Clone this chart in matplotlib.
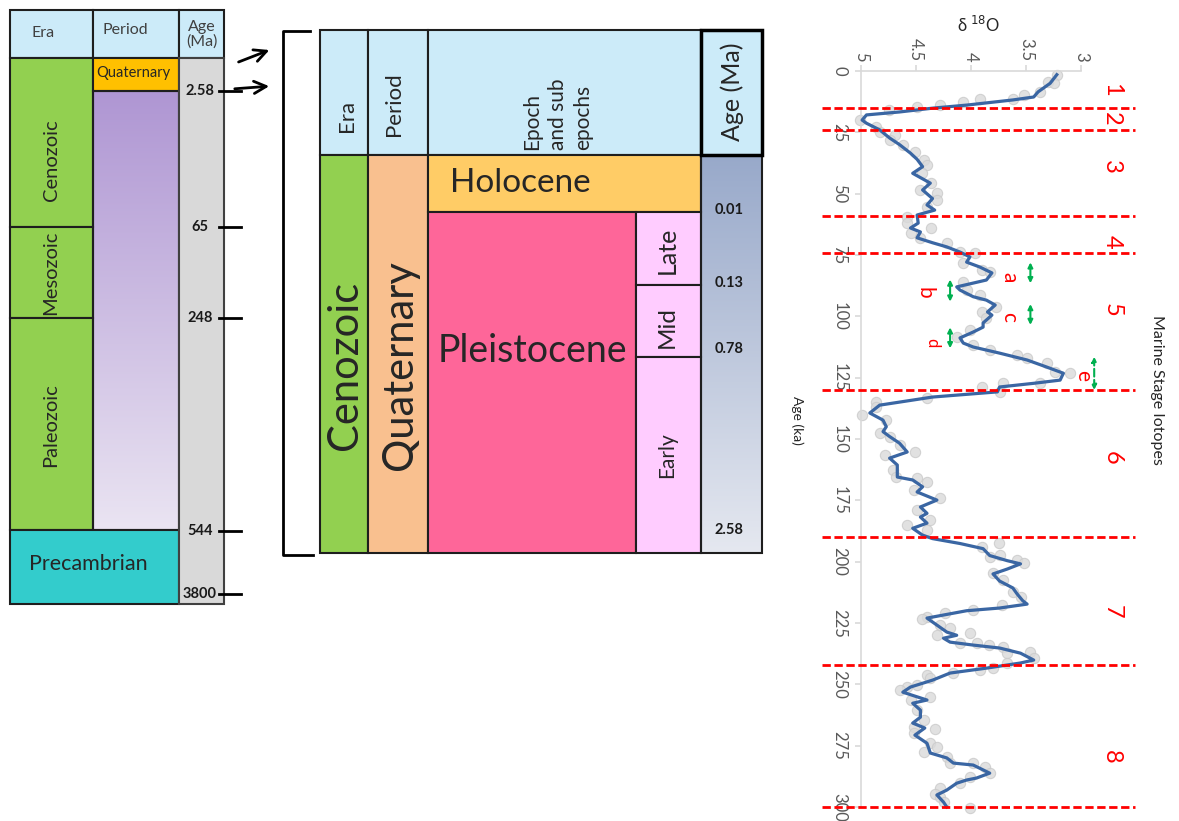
import numpy as np
import matplotlib.pyplot as plt
import matplotlib.transforms as mtransforms
from matplotlib.patches import Rectangle
from matplotlib.colors import LinearSegmentedColormap

plt.rcParams['font.family'] = ['Lato', 'DejaVu Sans']

W, H = 1179, 821

# =============================================================================
# DATA
# =============================================================================

# Geologic time scale (left table)
gts_eras = ["Cenozoic", "Mesozoic", "Paleozoic"]
gts_ages = ["2.58", "65", "248", "544", "3800"]

# Quaternary detail (middle table)
q_era = "Cenozoic"
q_period = "Quaternary"
q_epochs = ["Holocene", "Pleistocene"]
q_subepochs = ["Late", "Mid", "Early"]
q_ages = ["0.01", "0.13", "0.78", "2.58"]

# Benthic d18O stack, smoothed curve (age in ka, d18O in permil)
curve_age = [1.5, 5, 8.5, 10.6, 11.8, 13.9, 15.1, 16.7, 17.9, 20, 21.3, 24, 27.3, 30,
             33.5, 36, 39, 41.7, 45.7, 48.5, 52, 54.6, 56.7, 58.7, 62, 64, 65.6, 68,
             70, 71.7, 73.8, 75.8, 77.9, 79.9, 82.3, 85.2, 88, 89.3, 92, 93.4, 95.4,
             98.2, 99.5, 102.7, 104.4, 106.4, 108.8, 110.9, 112.5, 115, 117.8, 120.7,
             123.2, 126, 127.3, 128.8, 130.8, 132.9, 136.2, 139.4, 142.3, 145, 147,
             149, 151.7, 155.3, 157.8, 160.6, 165.5, 166.7, 169.5, 171.6, 174.9,
             177.7, 180.3, 181.8, 184.3, 186.4, 189.2, 190.6, 192.6, 194.7, 197.5,
             199.6, 200.9, 203, 205, 207.9, 210.7, 213.2, 215.9, 217.3, 218.9, 220,
             223, 228.7, 230, 231.2, 232.8, 234, 235.2, 237.3, 240.1, 241.3, 243.4,
             245.4, 248.3, 251.1, 253.2, 256.4, 257.7, 260.5, 263.4, 265.8, 267.8,
             270.7, 274, 278, 280, 282.1, 282.9, 286.2, 288.2, 289, 290.3, 293.1,
             295.1, 298, 300]
curve_d18o = [3.22, 3.28, 3.39, 3.43, 3.62, 4.04, 4.34, 4.65, 4.95, 4.99, 4.95, 4.83,
              4.74, 4.65, 4.55, 4.49, 4.44, 4.53, 4.37, 4.44, 4.35, 4.40, 4.33, 4.49,
              4.48, 4.55, 4.46, 4.49, 4.35, 4.22, 4.10, 4.01, 4.04, 3.92, 3.81, 3.86,
              4.13, 4.10, 3.98, 3.86, 3.78, 3.85, 3.81, 3.89, 3.89, 3.98, 4.10, 4.07,
              3.98, 3.74, 3.49, 3.31, 3.16, 3.19, 3.43, 3.74, 3.76, 4.35, 4.83, 4.92,
              4.80, 4.77, 4.80, 4.74, 4.65, 4.58, 4.74, 4.67, 4.67, 4.53, 4.44, 4.49,
              4.31, 4.46, 4.40, 4.46, 4.40, 4.53, 4.44, 4.35, 4.10, 3.89, 3.83, 3.67,
              3.55, 3.67, 3.80, 3.74, 3.62, 3.58, 3.53, 3.49, 3.74, 4.04, 4.40, 4.22,
              4.13, 4.25, 4.19, 3.98, 3.74, 3.55, 3.43, 3.55, 3.86, 4.19, 4.35, 4.55,
              4.62, 4.40, 4.53, 4.46, 4.46, 4.53, 4.42, 4.51, 4.40, 4.37, 4.22, 4.16,
              3.98, 3.83, 3.95, 4.04, 4.13, 4.22, 4.31, 4.25, 4.22]

# Individual measurements
raw_age = [1.6, 4.4, 5.0, 8.4, 9.8, 11.5, 11.5, 12.5, 13.9, 14.8, 15.9, 20, 22.7, 24.7,
           26.1, 28.1, 30.2, 32.9, 36.3, 38.3, 41.7, 45.8, 48.5, 49.9, 52.6, 55.3, 59.4,
           62.1, 64.1, 66.2, 68.2, 70.2, 73.7, 74.3, 78.4, 81.1, 81.8, 85.9, 89.3, 91.3,
           96.1, 98.1, 100.8, 105.6, 108.3, 111.7, 113.7, 115.8, 117.1, 119.2, 122.6,
           123.2, 127.3, 127.3, 128.7, 130.7, 133.4, 134.8, 136.8, 140.2, 142.3, 147.7,
           149.1, 152.5, 155.2, 156.5, 162.7, 165.4, 166.1, 167.4, 170.8, 174.2, 179,
           183, 185.1, 187.1, 192.5, 193.9, 197.3, 198, 199.3, 200.7, 204.8, 207.5,
           212.3, 214.3, 217.7, 219.7, 221.1, 222.5, 223.5, 225.8, 227.2, 229.2, 229.9,
           233.3, 233.3, 234, 234.7, 236.7, 237.4, 239.4, 241.5, 243.5, 244.2, 245.5,
           246.2, 247.6, 250.3, 251, 252.3, 255.3, 256.4, 260.5, 264.6, 267.3, 268.4,
           270, 274.1, 275.5, 277.5, 279.6, 282.2, 282.2, 283.6, 286.3, 287.7, 290.4,
           292.4, 294.5, 295.8, 297.9, 300.6]
raw_d18o = [3.22, 3.30, 3.25, 3.37, 3.52, 3.62, 3.92, 4.07, 4.28, 4.49, 4.75, 5.01, 4.86,
            4.83, 4.69, 4.74, 4.62, 4.51, 4.43, 4.40, 4.45, 4.36, 4.46, 4.31, 4.31, 4.40,
            4.58, 4.58, 4.36, 4.55, 4.46, 4.22, 4.10, 3.96, 4.07, 3.90, 3.83, 4.07, 4.04,
            3.92, 3.77, 3.90, 3.86, 4.01, 4.13, 3.98, 3.83, 3.58, 3.49, 3.31, 3.24, 3.10,
            3.37, 3.71, 3.90, 3.74, 4.40, 4.86, 4.86, 4.99, 4.77, 4.83, 4.74, 4.65, 4.51,
            4.78, 4.71, 4.68, 4.49, 4.40, 4.52, 4.28, 4.49, 4.37, 4.58, 4.40, 3.75, 3.90,
            3.74, 3.83, 3.58, 3.52, 3.80, 3.71, 3.62, 3.55, 3.72, 3.98, 4.24, 4.40, 4.45,
            4.28, 4.19, 4.01, 4.31, 4.10, 3.95, 3.84, 3.71, 3.46, 3.67, 3.43, 3.67, 3.80,
            3.92, 4.16, 4.40, 4.37, 4.49, 4.58, 4.65, 4.37, 4.55, 4.49, 4.43, 4.52, 4.33,
            4.52, 4.37, 4.31, 4.43, 4.22, 4.19, 3.98, 3.87, 3.83, 4.01, 4.10, 4.28, 4.33,
            4.28, 4.25, 4.01]

# Marine isotope stages
mis_bounds = [15, 24, 59, 74, 130, 190, 242, 300]
mis_labels = ["1", "2", "3", "4", "5", "6", "7", "8"]
mis_label_age = [7.7, 19.6, 39, 69.7, 97.4, 157.8, 220.5, 279.7]

# MIS 5 substages
sub_labels = ["a", "b", "c", "d", "e"]
sub_start = [78, 85, 95, 104.5, 116.5]
sub_end = [86.5, 94, 103.5, 113, 130]

# =============================================================================
# STYLE / LAYOUT
# =============================================================================

HEAD_BLUE = "#CCEBF9"
GREEN = "#92D050"
EDGE = "#1E1E1E"
TXT = "#262626"

sub_label_x = [3.65, 4.42, 3.65, 4.35, 2.98]
sub_label_age = [84, 90.5, 100.3, 110.9, 124]
sub_arrow_x = [3.46, 4.19, 3.46, 4.19, 2.88]
sub_fs = [15, 15, 15, 12, 15]


def box(ax, x0, y0, x1, y1, fc, lw=1.5, ec=EDGE, z=2):
    ax.add_patch(Rectangle((x0, y0), x1 - x0, y1 - y0, facecolor=fc,
                           edgecolor=ec, linewidth=lw, zorder=z))


def gradient(ax, x0, y0, x1, y1, c_top, c_bot):
    cmap = LinearSegmentedColormap.from_list("col", [c_top, c_bot])
    ax.imshow(np.linspace(0, 1, 256).reshape(-1, 1), extent=[x0, x1, y1, y0],
              origin="upper", cmap=cmap, aspect="auto", zorder=1)
    box(ax, x0, y0, x1, y1, "none")


fig = plt.figure(figsize=(W / 100, H / 100), dpi=100)
bg = fig.add_axes([0, 0, 1, 1])
bg.axis("off")

# -----------------------------------------------------------------------------
# Left table: full geologic time scale
# -----------------------------------------------------------------------------
LX = [10, 93, 179, 224]
ERA_Y = [58, 227, 318, 530]
AGE_Y = [91, 227, 318, 531, 594]

for x0, x1 in zip(LX[:-1], LX[1:]):
    box(bg, x0, 10, x1, 58, HEAD_BLUE)
bg.text(43, 33, "Era", ha="center", va="center", fontsize=11.5, color="#404040")
bg.text(125, 30, "Period", ha="center", va="center", fontsize=11.5, color="#404040")
bg.text(202, 34, "Age\n(Ma)", ha="center", va="center", fontsize=11.5,
        color="#404040", linespacing=1.05)

era_label_y = [160, 273, 425]
for name, y0, y1, ly in zip(gts_eras, ERA_Y[:-1], ERA_Y[1:], era_label_y):
    box(bg, LX[0], y0, LX[1], y1, GREEN)
    bg.text(51, ly, name, rotation=90, ha="center", va="center", fontsize=14.5, color=TXT)

box(bg, LX[1], 58, LX[2], AGE_Y[0], "#FFC000")
bg.text(96, 73, "Quaternary", ha="left", va="center", fontsize=10.5, color=TXT)
gradient(bg, LX[1], AGE_Y[0], LX[2], ERA_Y[-1], "#AF96D3", "#EAE4F2")

box(bg, LX[0], ERA_Y[-1], LX[2], 604, "#33CCCC")
bg.text(88, 564, "Precambrian", ha="center", va="center", fontsize=15.5, color=TXT)

box(bg, LX[2], 58, LX[3], 604, "#D9D9D9", ec="#404040")
for lab, y in zip(gts_ages, AGE_Y):
    bg.text(200, y, lab, ha="center", va="center", fontsize=10.5,
            fontweight="bold", color="#1A1A1A")
    bg.plot([219, 241], [y, y], color="black", lw=2, zorder=4)

# arrows and bracket linking to the Quaternary detail
bg.annotate("", xy=(272, 49), xytext=(236, 63),
            arrowprops=dict(arrowstyle="->", lw=2, color="black", mutation_scale=22))
bg.annotate("", xy=(272, 86), xytext=(232, 89),
            arrowprops=dict(arrowstyle="->", lw=2, color="black", mutation_scale=22))
bg.plot([310, 283, 283, 313], [31, 31, 555, 555], color="black", lw=2)

# -----------------------------------------------------------------------------
# Middle table: Quaternary subdivisions
# -----------------------------------------------------------------------------
MX = [320, 368, 428, 636, 701, 762]
MY = [30, 155, 212, 285, 357, 553]

for x0, x1 in [(MX[0], MX[1]), (MX[1], MX[2]), (MX[2], MX[4])]:
    box(bg, x0, MY[0], x1, MY[1], HEAD_BLUE)
box(bg, MX[4], MY[0], MX[5], MY[1], HEAD_BLUE, lw=2.5, ec="black", z=3)
bg.text(347, 116, "Era", rotation=90, ha="center", va="center", fontsize=16, color=TXT)
bg.text(394, 104, "Period", rotation=90, ha="center", va="center", fontsize=16, color=TXT)
bg.text(558, 114, "Epoch\nand sub\nepochs", rotation=90, ha="center", va="center",
        multialignment="left", fontsize=15, color=TXT, linespacing=1.35)
bg.text(732, 92, "Age (Ma)", rotation=90, ha="center", va="center", fontsize=18, color=TXT)

box(bg, MX[0], MY[1], MX[1], MY[-1], GREEN)
bg.text(345, 365, q_era, rotation=90, ha="center", va="center", fontsize=30, color=TXT)
box(bg, MX[1], MY[1], MX[2], MY[-1], "#F9C08F")
bg.text(400, 365, q_period, rotation=90, ha="center", va="center", fontsize=30, color=TXT)

box(bg, MX[2], MY[1], MX[4], MY[2], "#FFCC66")
bg.text(450, 183, q_epochs[0], ha="left", va="center", fontsize=24, color=TXT)
box(bg, MX[2], MY[2], MX[3], MY[-1], "#FE6699")
bg.text(532, 351, q_epochs[1], ha="center", va="center", fontsize=27, color=TXT)

sub_label_y = [250, 327, 455]
sub_label_fs = [18, 17.5, 15]
for name, y0, y1, ly, fs in zip(q_subepochs, MY[2:-1], MY[3:], sub_label_y, sub_label_fs):
    box(bg, MX[3], y0, MX[4], y1, "#FFCCFF")
    bg.text(667, ly, name, rotation=90, ha="center", va="center", fontsize=fs, color=TXT)

gradient(bg, MX[4], MY[1], MX[5], MY[-1], "#98A9CA", "#E5E8F0")
for lab, y in zip(q_ages, [210, 283, 349, 530]):
    bg.text(729, y, lab, ha="center", va="center", fontsize=10.5,
            fontweight="bold", color="#1A1A1A")

# axis titles of the isotope panel
bg.text(797, 420, "Age (ka)", rotation=-90, ha="center", va="center", fontsize=10, color=TXT)
bg.text(979, 25, r"δ $^{18}$O", ha="center", va="center", fontsize=12, color=TXT)
bg.text(1157, 390, "Marine Stage Iotopes", rotation=-90, ha="center", va="center",
        fontsize=11.5, color=TXT)

bg.set_xlim(0, W)
bg.set_ylim(H, 0)

# -----------------------------------------------------------------------------
# Right panel: d18O vs age, drawn vertically
# -----------------------------------------------------------------------------
ax = fig.add_axes([861 / W, 1 - 807 / H, 220 / W, 736 / H])
ax.set_facecolor("none")

ax.scatter(raw_d18o, raw_age, s=55, color="#DADADA", edgecolor="#CACACA",
           linewidth=0.8, alpha=0.8, zorder=2, clip_on=False)
ax.plot(curve_d18o, curve_age, color="#3A66A3", lw=2.3, zorder=3, clip_on=False)

for b in mis_bounds:
    ax.axhline(b, xmin=-0.177, xmax=1.245, color="#FF0000", lw=2,
               ls=(0, (3, 1.3)), clip_on=False, zorder=4)

stage_tr = mtransforms.blended_transform_factory(ax.transAxes, ax.transData)
for lab, a in zip(mis_labels, mis_label_age):
    ax.text(1.14, a, lab, transform=stage_tr, rotation=-90, ha="center", va="center",
            fontsize=17, color="#FF0000")

for lab, a0, a1, lx, ly, axx, fs in zip(sub_labels, sub_start, sub_end, sub_label_x,
                                         sub_label_age, sub_arrow_x, sub_fs):
    ax.text(lx, ly, lab, rotation=-90, ha="center", va="center", fontsize=fs,
            color="#FF0000")
    ax.annotate("", xy=(axx, a0), xytext=(axx, a1), annotation_clip=False,
                arrowprops=dict(arrowstyle="<|-|>", color="#00B050", lw=1.5,
                                mutation_scale=7, shrinkA=0, shrinkB=0,
                                linestyle="--" if lab == "e" else "-"))

ax.set_xlim(5, 3)
ax.set_ylim(300, 0)
ax.set_xticks([5, 4.5, 4, 3.5, 3])
ax.set_xticklabels(["5", "4.5", "4", "3.5", "3"])
ax.set_yticks(np.arange(0, 301, 25))
ax.xaxis.tick_top()
for side in ["right", "bottom"]:
    ax.spines[side].set_visible(False)
for side in ["top", "left"]:
    ax.spines[side].set_color("#D9D9D9")
    ax.spines[side].set_linewidth(1.2)
ax.tick_params(axis="both", color="#D9D9D9", length=4, width=1.2,
               labelcolor="#595959", labelsize=12)
ax.tick_params(axis="x", pad=3)
ax.tick_params(axis="y", pad=6)
for t in ax.get_xticklabels():
    t.set_rotation(-90)
for t in ax.get_yticklabels():
    t.set_rotation(-90)
    t.set_va("center")

fig.savefig("out.png", dpi=100)
